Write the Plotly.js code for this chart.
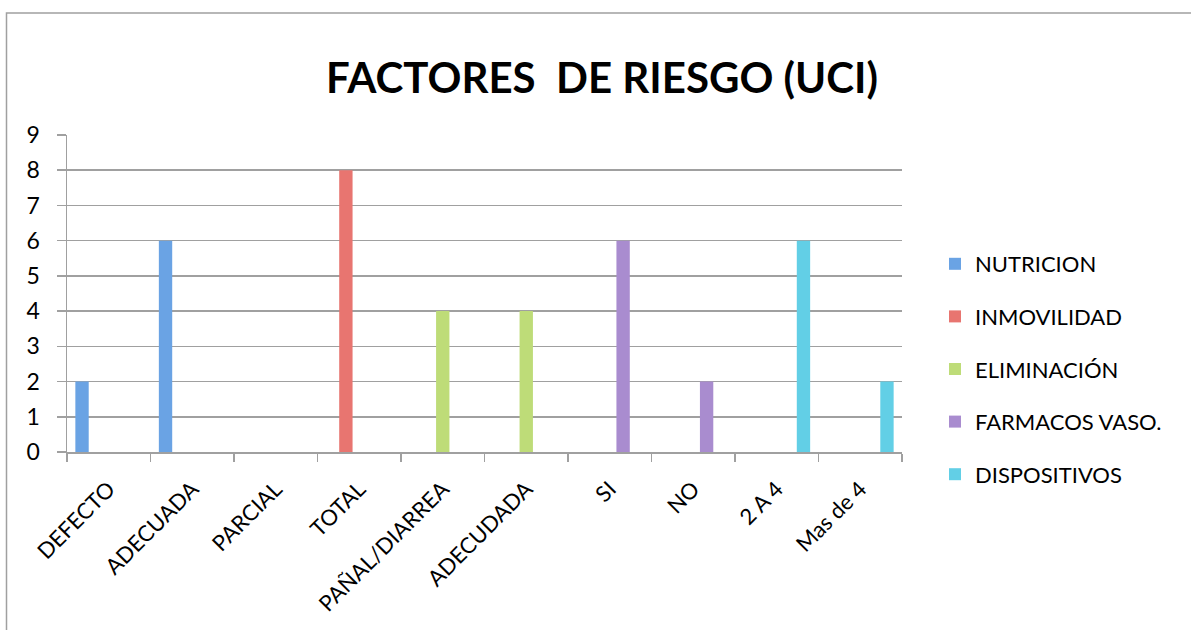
<!DOCTYPE html>
<html>
<head>
<meta charset="utf-8">
<script src="https://cdn.plot.ly/plotly-3.0.1.min.js"></script>
<style>html,body{margin:0;padding:0;background:#fff;}#chart{width:1191px;height:630px;}</style>
</head>
<body>
<div id="chart"></div>
<script>
var categories = ["DEFECTO","ADECUADA","PARCIAL","TOTAL","PAÑAL/DIARREA","ADECUDADA","SI","NO","2 A 4","Mas de 4"];
var seriesNames = ["NUTRICION","INMOVILIDAD","ELIMINACIÓN","FARMACOS VASO.","DISPOSITIVOS"];
var nutricion    = [2, 6, null, null, null, null, null, null, null, null];
var inmovilidad  = [null, null, 0, 8, null, null, null, null, null, null];
var eliminacion  = [null, null, null, null, 4, 4, null, null, null, null];
var farmacos     = [null, null, null, null, null, null, 6, 2, null, null];
var dispositivos = [null, null, null, null, null, null, null, null, 6, 2];
var yTicks = [0,1,2,3,4,5,6,7,8,9];

var colors = ["#6aa3e4", "#e87570", "#bedc78", "#a98ccf", "#62cfe6"];
var seriesValues = [nutricion, inmovilidad, eliminacion, farmacos, dispositivos];

var FONT = "Lato, 'Open Sans', sans-serif";
var data = seriesValues.map(function(vals, i){
  return {
    type: "bar",
    name: seriesNames[i],
    legendgroup: "g" + i,
    x: categories,
    y: vals,
    marker: {color: colors[i], line: {width: 0}},
    hoverinfo: "x+y+name"
  };
});

var L = 67, R = 902, T = 135, B = 452, W = 1191, H = 630;
var pw = R - L, ph = B - T;

var layout = {
  width: W, height: H,
  margin: {l: L, r: W - R, t: T, b: H - B, pad: 0},
  paper_bgcolor: "#ffffff",
  plot_bgcolor: "#ffffff",
  barmode: "group",
  bargap: 0.2,
  bargroupgap: 0,
  font: {family: FONT, color: "#000000", size: 22},
  title: {
    text: "<b>FACTORES  DE RIESGO (UCI)</b>",
    font: {family: FONT, size: 42, color: "#000000"},
    x: 602 / W, xref: "container", xanchor: "center",
    y: 1 - 78 / H, yref: "container", yanchor: "middle"
  },
  xaxis: {
    type: "category",
    tickangle: -45,
    tickson: "boundaries",
    ticks: "outside",
    ticklen: 8,
    tickcolor: "#a0a0a0",
    tickwidth: 1.5,
    showline: true,
    linecolor: "#a0a0a0",
    linewidth: 1.5,
    showgrid: false,
    zeroline: false,
    ticklabelstandoff: 14,
    tickfont: {family: FONT, size: 22, color: "#000000"},
    fixedrange: true
  },
  yaxis: {
    range: [0, 9],
    tickvals: yTicks,
    ticktext: yTicks.map(String),
    ticks: "outside",
    ticklen: 9,
    tickcolor: "#a0a0a0",
    tickwidth: 1.5,
    showline: true,
    linecolor: "#a0a0a0",
    linewidth: 1.5,
    showgrid: true,
    gridcolor: "#a0a0a0",
    gridwidth: 1.5,
    zeroline: false,
    ticklabelstandoff: 12,
    tickfont: {family: FONT, size: 23, color: "#000000"},
    fixedrange: true
  },
  showlegend: true,
  legend: {
    orientation: "v",
    x: (935 - L) / pw, xanchor: "left",
    y: 1 - (243 - T) / ph, yanchor: "top",
    font: {family: FONT, size: 22, color: "#000000"},
    tracegroupgap: 21,
    bgcolor: "rgba(0,0,0,0)",
    traceorder: "grouped"
  },
  shapes: [{
    type: "rect", xref: "paper", yref: "paper",
    x0: (6.5 - L) / pw, x1: (W + 10 - L) / pw,
    y0: 1 - (H + 10 - T) / ph, y1: 1 + (T - 13) / ph,
    line: {color: "#a0a0a0", width: 1.5},
    fillcolor: "rgba(0,0,0,0)",
    layer: "below"
  }]
};

Plotly.newPlot("chart", data, layout, {displayModeBar: false, staticPlot: true});
</script>
</body>
</html>
